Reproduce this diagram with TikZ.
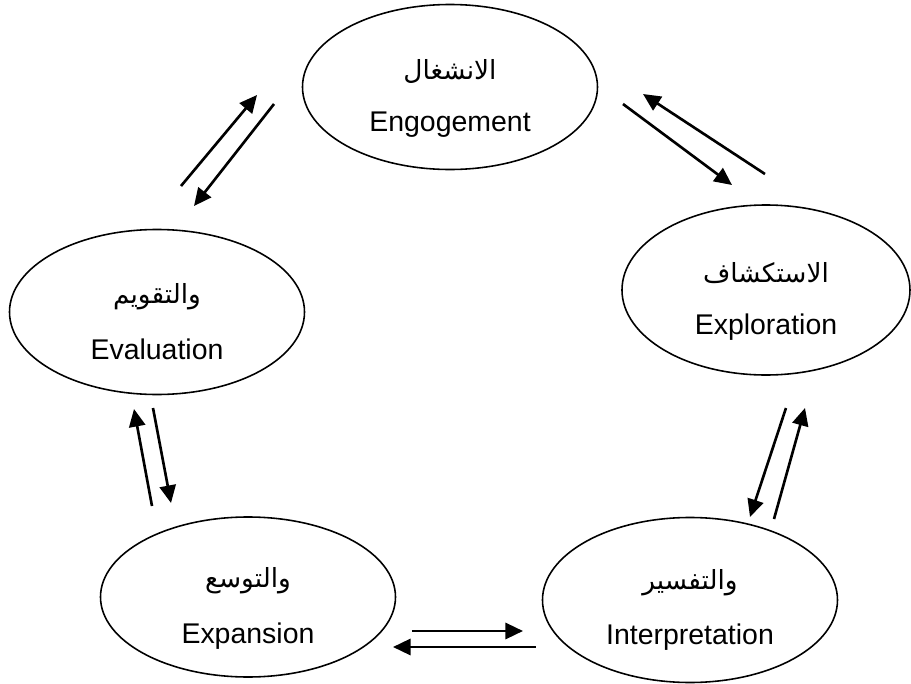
\documentclass[tikz,border=0pt]{standalone}
\usepackage{fontspec}
\setmainfont{Liberation Sans}
\newfontfamily\arabicfont[Script=Arabic]{DejaVu Sans}
\usetikzlibrary{shapes.geometric,arrows.meta}
\TeXXeTstate=1
\begin{document}
\begin{tikzpicture}[
    phase/.style={draw,ellipse,line width=0.45pt,minimum width=2.95cm,minimum height=1.65cm,inner sep=0pt},
    artxt/.style={font=\arabicfont\fontsize{7.5}{9}\selectfont,inner sep=0pt},
    entxt/.style={font=\fontsize{8.1}{10}\selectfont,inner sep=0pt},
    link/.style={line width=0.75pt,-{Triangle[length=5pt,width=4.6pt]}}]
  \useasboundingbox (0,0) rectangle (9.11,6.83);
  \node[phase] (eng) at (4.50,5.96) {};
  \node[phase,minimum width=2.88cm,minimum height=1.70cm] (expl) at (7.66,3.93) {};
  \node[phase] (eval) at (1.57,3.71) {};
  \node[phase,minimum height=1.60cm] (expa) at (2.48,0.86) {};
  \node[phase] (intp) at (6.90,0.83) {};
  \node[artxt] (engar) at ([yshift=0.16cm]eng.center) {\beginR الانشغال\endR};
  \node[entxt] (engen) at ([yshift=-0.38cm]eng.center) {Engogement};
  \node[artxt] (explar) at ([yshift=0.17cm]expl.center) {\beginR الاستكشاف\endR};
  \node[entxt] (explen) at ([yshift=-0.37cm]expl.center) {Exploration};
  \node[artxt] (evalar) at ([yshift=0.15cm]eval.center) {\beginR والتقويم\endR};
  \node[entxt] (evalen) at ([yshift=-0.37cm]eval.center) {Evaluation};
  \node[artxt] (expaar) at ([yshift=0.16cm]expa.center) {\beginR والتوسع\endR};
  \node[entxt] (expaen) at ([yshift=-0.39cm]expa.center) {Expansion};
  \node[artxt] (intpar) at ([yshift=0.17cm]intp.center) {\beginR والتفسير\endR};
  \node[entxt] (intpen) at ([yshift=-0.37cm]intp.center) {Interpretation};
  \coordinate (p1) at (6.23,5.79); \coordinate (q1) at (7.32,4.98);
  \coordinate (p2) at (7.65,5.09); \coordinate (q2) at (6.43,5.89);
  \coordinate (p3) at (1.81,4.97); \coordinate (q3) at (2.57,5.88);
  \coordinate (p4) at (2.74,5.79); \coordinate (q4) at (1.94,4.77);
  \coordinate (p5) at (1.52,1.77); \coordinate (q5) at (1.34,2.74);
  \coordinate (p6) at (1.53,2.75); \coordinate (q6) at (1.71,1.80);
  \coordinate (p7) at (7.86,2.75); \coordinate (q7) at (7.50,1.66);
  \coordinate (p8) at (7.74,1.64); \coordinate (q8) at (8.05,2.75);
  \coordinate (p9) at (4.12,0.52); \coordinate (q9) at (5.23,0.52);
  \coordinate (p10) at (5.36,0.36); \coordinate (q10) at (3.93,0.36);
  \draw[link] (p1) -- (q1);
  \draw[link] (p2) -- (q2);
  \draw[link] (p3) -- (q3);
  \draw[link] (p4) -- (q4);
  \draw[link] (p5) -- (q5);
  \draw[link] (p6) -- (q6);
  \draw[link] (p7) -- (q7);
  \draw[link] (p8) -- (q8);
  \draw[link] (p9) -- (q9);
  \draw[link] (p10) -- (q10);
\end{tikzpicture}
\end{document}
